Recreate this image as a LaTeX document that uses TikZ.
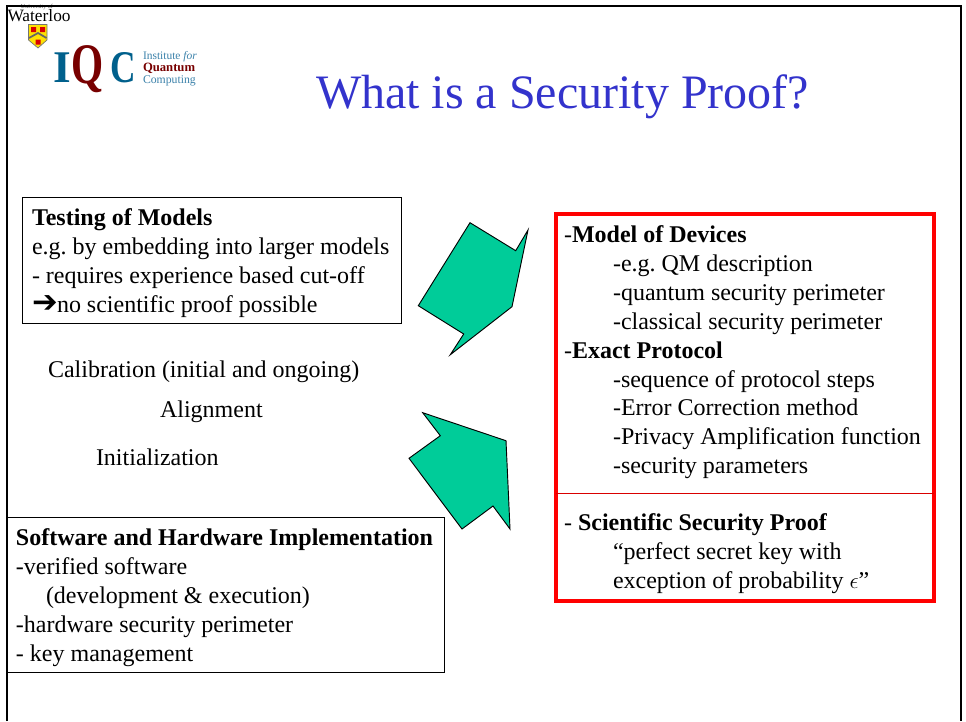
\documentclass[tikz,border=0pt]{standalone}
\usepackage{fontspec}
\usepackage{graphicx}
\setmainfont{Liberation Serif}
\frenchspacing
\begin{document}
\begin{tikzpicture}[x=0.75pt,y=-0.75pt,
  every node/.style={inner sep=0pt,outer sep=0pt},
  txt/.style={anchor=base west,font=\fontsize{18pt}{21pt}\selectfont},
  box/.style={draw=black,line width=0.6pt,fill=white},
  arrowshape/.style={draw=black,line width=0.7pt,fill=arrowgreen}]
\definecolor{arrowgreen}{RGB}{0,204,153}
\definecolor{titleblue}{RGB}{51,51,204}
\definecolor{iqcblue}{RGB}{0,96,140}
\definecolor{iqcred}{RGB}{120,0,0}
\definecolor{iqclight}{RGB}{60,130,170}
\useasboundingbox (0,0) rectangle (966,721);
\fill[white] (0,0) rectangle (966,721);
% logos
\node[anchor=base west,font=\fontsize{4.5pt}{5pt}\selectfont,text=black!70] (univ) at (21,8.5) {University of};
\node[anchor=base west,font=\fontsize{13pt}{13pt}\selectfont] (waterloo) at (7.5,21.5) {Waterloo};
\draw[line width=1.9pt,black] (7,721) -- (7,6) -- (961,6) -- (961,721);
\fill[yellow!85!orange,draw=black!55,line width=0.5pt] (28.5,24.5) -- (47,24.5) -- (47,40) -- (38,48) -- (28.5,40) -- cycle;
\fill[red!85!black] (31,27) rectangle (36,32) (40,27) rectangle (45,32) (35.5,39.5) rectangle (40.5,44.5);
\draw[black!60,line width=1.3pt] (29,38) -- (38,33) -- (46.5,38);
\node[anchor=base west,font=\fontsize{34pt}{34pt}\selectfont\bfseries,text=iqcblue] (logoi) at (53.5,82) {I};
\node[anchor=base west,font=\fontsize{43pt}{43pt}\selectfont\bfseries,text=iqcred] (logoq) at (71.5,83) {\scalebox{0.72}[1]{Q}};
\node[anchor=base west,font=\fontsize{34pt}{34pt}\selectfont\bfseries,text=iqcblue] (logoc) at (110,82) {\scalebox{0.78}[1]{C}};
\node[anchor=base west,font=\fontsize{8.6pt}{9pt}\selectfont,text=iqclight] (inst) at (143,59.5) {Institute \textit{for}};
\node[anchor=base west,font=\fontsize{9.5pt}{10pt}\selectfont\bfseries,text=iqcred] (quant) at (143,71) {Quantum};
\node[anchor=base west,font=\fontsize{8.8pt}{9pt}\selectfont,text=iqclight] (comp) at (143,83) {Computing};
% title
\node[anchor=base west,font=\fontsize{36pt}{40pt}\selectfont,text=titleblue] (title) at (316,108) {What is a Security Proof?};
% left top box
\node[box,minimum width=379pt*0.75,minimum height=126pt*0.75,anchor=north west] (testbox) at (22,197) {};
\node[txt] (t1) at (32,225) {\textbf{Testing of Models}};
\node[txt] (t2) at (32,254) {e.g. by embedding into larger models};
\node[txt] (t3) at (32,283) {- requires experience based cut-off};
\node[txt] (t4) at (32,312) {\makebox[18.75pt][l]{\fontspec{DejaVu Sans}\fontsize{23pt}{21pt}\selectfont ➔}no scientific proof possible};
% middle labels
\node[txt] (m1) at (48,377) {Calibration (initial and ongoing)};
\node[txt] (m2) at (160,417) {Alignment};
\node[txt] (m3) at (96,465) {Initialization};
% lower left box
\node[box,minimum width=437pt*0.75,minimum height=155pt*0.75,anchor=north west] (swbox) at (7,517) {};
\node[txt] (s1) at (16,545) {\textbf{Software and Hardware Implementation}};
\node[txt] (s2) at (16,574) {-verified software};
\node[txt] (s3) at (46,603) {(development \& execution)};
\node[txt] (s4) at (16,632) {-hardware security perimeter};
\node[txt] (s5) at (16,661) {- key management};
% arrows
\draw[arrowshape] (470,222.7) -- (515.7,250.7) -- (528,230) -- (512,306.7) -- (450.3,354.7) -- (463.7,334) -- (418.3,305.7) -- cycle;
\draw[arrowshape] (422.7,412.7) -- (506,440.7) -- (510,529) -- (493,506) -- (462,529) -- (409,458.3) -- (440.3,435.7) -- cycle;
% right box
\node[draw=red,line width=2.3pt,fill=white,minimum width=378pt*0.75,minimum height=387pt*0.75,anchor=north west] (redbox) at (556,214) {};
\draw[red!85!black,line width=0.6pt] (redbox.west |- 0,493) -- (redbox.east |- 0,493);
\node[txt] (r1) at (564,242) {-\textbf{Model of Devices}};
\node[txt] (r2) at (613,271) {-e.g. QM description};
\node[txt] (r3) at (613,300) {-quantum security perimeter};
\node[txt] (r4) at (613,329) {-classical security perimeter};
\node[txt] (r5) at (564,358) {-\textbf{Exact Protocol}};
\node[txt] (r6) at (613,387) {-sequence of protocol steps};
\node[txt] (r7) at (613,415) {-Error Correction method};
\node[txt] (r8) at (613,444) {-Privacy Amplification function};
\node[txt] (r9) at (613,473) {-security parameters};
\node[txt] (r10) at (564,530) {- \textbf{Scientific Security Proof}};
\node[txt] (r11) at (613,559) {“perfect secret key with};
\node[txt] (r12) at (613,588) {exception of probability $\epsilon$”};
\end{tikzpicture}
\end{document}
